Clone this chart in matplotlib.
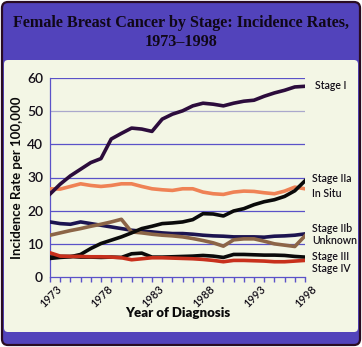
import matplotlib
matplotlib.use("Agg")
import matplotlib.pyplot as plt
import matplotlib.transforms as mtransforms
from matplotlib.patches import FancyBboxPatch

years = list(range(1973, 1999))

stage_i = [25.0, 28.0, 30.5, 32.5, 34.5, 35.7, 41.6, 43.3, 44.9, 44.6, 43.9, 47.6,
           49.1, 50.1, 51.6, 52.4, 52.1, 51.6, 52.4, 53.0, 53.3, 54.5, 55.5, 56.3,
           57.3, 57.5]
in_situ = [26.6, 26.5, 27.3, 28.1, 27.6, 27.3, 27.6, 28.1, 28.1, 27.3, 26.6, 26.3,
           26.1, 26.6, 26.6, 25.6, 25.1, 24.9, 25.6, 25.9, 25.8, 25.4, 25.1, 25.9,
           27.1, 26.6]
stage_iia = [5.6, 5.9, 6.1, 6.8, 8.6, 10.1, 11.1, 12.1, 13.3, 14.6, 15.3, 16.1,
             16.3, 16.6, 17.3, 19.1, 19.0, 18.4, 19.9, 20.6, 21.8, 22.7, 23.3, 24.3,
             26.0, 29.0]
stage_iib = [16.6, 16.1, 15.9, 16.6, 16.1, 15.6, 15.1, 14.6, 14.1, 13.8, 13.6, 13.3,
             13.1, 13.1, 12.9, 12.6, 12.4, 12.3, 12.1, 12.1, 12.1, 12.0, 12.3, 12.4,
             12.6, 13.0]
unknown = [12.6, 13.3, 14.0, 14.6, 15.3, 15.9, 16.6, 17.4, 13.6, 13.3, 12.9, 12.6,
           12.4, 12.1, 11.6, 11.0, 10.3, 9.3, 11.2, 11.5, 11.5, 10.8, 10.0, 9.6,
           9.2, 12.4]
stage_iii = [6.0, 6.2, 6.2, 6.0, 6.0, 5.9, 6.0, 5.9, 7.0, 7.2, 6.0, 6.0, 6.1, 6.2,
             6.3, 6.5, 6.3, 5.9, 6.8, 6.8, 6.7, 6.6, 6.6, 6.5, 6.2, 6.0]
stage_iv = [7.3, 6.3, 6.2, 6.2, 6.1, 6.1, 6.0, 5.8, 5.2, 5.5, 5.8, 5.8, 5.7, 5.6,
            5.5, 5.3, 5.0, 4.6, 5.0, 5.0, 4.9, 4.8, 4.6, 4.6, 4.8, 5.0]

# name, values, colour, height of the label at the right end
series = [
    ("Stage I", stage_i, "#2c0c3c", 57.6),
    ("Stage IIa", stage_iia, "#0a0a0a", 29.6),
    ("In Situ", in_situ, "#ef8255", 25.1),
    ("Stage IIb", stage_iib, "#1c1450", 14.5),
    ("Unknown", unknown, "#8c6547", 11.1),
    ("Stage III", stage_iii, "#0a0a0a", 6.3),
    ("Stage IV", stage_iv, "#c8301c", 2.7),
]
draw_order = ["Stage IIb", "Unknown", "In Situ", "Stage IIa", "Stage III",
              "Stage IV", "Stage I"]

purple = "#5243bb"
cream = "#f3f6e5"
grid_blue = "#5a52c8"

W, H = 362, 347
fig = plt.figure(figsize=(W / 100, H / 100), dpi=100, facecolor="white")

# frame: purple rounded box with a cream panel
bg = fig.add_axes([0, 0, 1, 1])
bg.set_xlim(0, W)
bg.set_ylim(H, 0)
bg.axis("off")
bg.add_patch(FancyBboxPatch((2, 2), W - 4, H - 4, boxstyle="round,pad=0,rounding_size=6",
                            fc=purple, ec="#2a0c22", lw=1.6))
bg.add_patch(FancyBboxPatch((4, 60), W - 8, 272, boxstyle="round,pad=0,rounding_size=4",
                            fc=cream, ec="none"))
bg.text(W / 2, 23, "Female Breast Cancer by Stage: Incidence Rates,", ha="center",
        va="center", family="Liberation Serif", weight="bold", fontsize=11.6, color="#100818")
bg.text(W / 2, 42, "1973\u20131998", ha="center", va="center",
        family="Liberation Serif", weight="bold", fontsize=11.6, color="#100818")

ax = fig.add_axes([50 / W, 1 - 277 / H, 255 / W, 199 / H])
ax.set_facecolor("none")
ax.set_xlim(1973, 1998)
ax.set_ylim(0, 60)

for v in range(10, 61, 10):
    ax.axhline(v, color="#aaa8cc" if v == 50 else grid_blue, lw=0.9, zorder=1)

by_name = {s[0]: s for s in series}
for name in draw_order:
    _, vals, col, _ = by_name[name]
    ax.plot(years, vals, color=col, lw=2.6, solid_joinstyle="round", zorder=3)

for name, _, _, ylab in series:
    x0 = 1998.95 if name == "Stage I" else 1998.7
    ax.text(x0, ylab, name, fontsize=7.6, family="Lato", weight="semibold",
            color="#15101a", va="center", ha="left", clip_on=False)

for s in ["top", "right"]:
    ax.spines[s].set_visible(False)
ax.spines["left"].set_color(grid_blue)
ax.spines["bottom"].set_color(grid_blue)
ax.spines["left"].set_linewidth(0.9)
ax.spines["bottom"].set_linewidth(0.9)

ax.set_yticks(range(0, 61, 10))
ax.tick_params(axis="y", length=0, pad=5, labelsize=10, labelcolor="#15101a")
ax.set_xticks(years)
ax.set_xticklabels([str(y) if (y - 1973) % 5 == 0 else "" for y in years],
                   rotation=45, ha="right", rotation_mode="anchor")
ax.tick_params(axis="x", direction="out", length=3.5, width=1.0, color=grid_blue,
               labelsize=8, labelcolor="#15101a", pad=1)
for i, t in enumerate(ax.xaxis.get_major_ticks()):
    if i % 3 == 2:
        t.tick1line.set_color("#a8a8d0")
# nudge the slanted year labels so they end just right of their ticks
shift = mtransforms.ScaledTranslation(6 / 100, 0, fig.dpi_scale_trans)
for lab in ax.get_xticklabels():
    lab.set_transform(lab.get_transform() + shift)
for lab in ax.get_xticklabels() + ax.get_yticklabels():
    lab.set_family("Lato")
    lab.set_weight("semibold")

ax.set_ylabel("Incidence Rate per 100,000", family="Lato", weight="bold",
              fontsize=9.5, color="#0a0a0a", va="center")
ax.yaxis.set_label_coords((17 - 50) / 255, 0.5)
ax.set_xlabel("Year of Diagnosis", family="Lato", weight="heavy",
              fontsize=9.5, color="#0a0a0a", va="center")
ax.xaxis.set_label_coords(0.5, (277 - 313) / 199)

fig.savefig("out.png", dpi=100, facecolor="white")
